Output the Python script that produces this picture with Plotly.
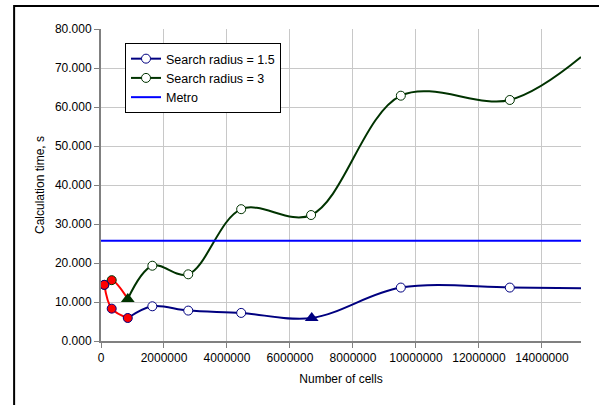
import plotly.graph_objects as go

# Search radius = 1.5
r15_x = [105000, 340000, 850000, 1630000, 2770000, 4450000, 6690000, 9520000, 12980000, 15240000]
r15_y = [14.4, 8.3, 5.9, 8.9, 7.8, 7.2, 5.9, 13.7, 13.7, 13.5]
# Search radius = 3
r3_x = [105000, 340000, 850000, 1630000, 2770000, 4450000, 6670000, 9520000, 12980000, 15240000]
r3_y = [14.4, 15.6, 10.8, 19.3, 17.1, 33.8, 32.3, 62.9, 61.8, 72.8]
# Metro constant
metro_x = [0, 15240000]
metro_y = [25.7, 25.7]

x_ticks = [0, 2000000, 4000000, 6000000, 8000000, 10000000, 12000000, 14000000]
y_ticks = [0, 10, 20, 30, 40, 50, 60, 70, 80]

NAVY = "#000080"
GREEN = "#003300"
BLUE = "#0000FF"
RED = "#FF0000"

fig = go.Figure()

fig.add_trace(go.Scatter(
    x=r15_x[2:], y=r15_y[2:], mode="lines", line=dict(color=NAVY, width=2, shape="spline", smoothing=1),
    showlegend=False, hoverinfo="skip"))
fig.add_trace(go.Scatter(
    x=r3_x[2:], y=r3_y[2:], mode="lines", line=dict(color=GREEN, width=2, shape="spline", smoothing=1),
    showlegend=False, hoverinfo="skip"))
fig.add_trace(go.Scatter(
    x=metro_x, y=metro_y, mode="lines", line=dict(color=BLUE, width=2),
    showlegend=False, hoverinfo="skip"))

circ15 = [3, 4, 5, 7, 8]
circ3 = [3, 4, 5, 6, 7, 8]
fig.add_trace(go.Scatter(
    x=[r15_x[i] for i in circ15], y=[r15_y[i] for i in circ15], mode="markers",
    marker=dict(symbol="circle", size=9, color="white", line=dict(color=NAVY, width=1)),
    showlegend=False))
fig.add_trace(go.Scatter(
    x=[r3_x[i] for i in circ3], y=[r3_y[i] for i in circ3], mode="markers",
    marker=dict(symbol="circle", size=9, color="white", line=dict(color=GREEN, width=1)),
    showlegend=False))

fig.add_trace(go.Scatter(
    x=r3_x[:3], y=r3_y[:3], mode="lines", line=dict(color=RED, width=2, shape="spline", smoothing=1),
    showlegend=False))
fig.add_trace(go.Scatter(
    x=r15_x[:3], y=r15_y[:3], mode="lines", line=dict(color=RED, width=2, shape="spline", smoothing=1),
    showlegend=False))
fig.add_trace(go.Scatter(
    x=r3_x[:2], y=r3_y[:2], mode="markers",
    marker=dict(symbol="circle", size=9, color=RED, line=dict(color=GREEN, width=1)),
    showlegend=False))
fig.add_trace(go.Scatter(
    x=r15_x[:3], y=r15_y[:3], mode="markers",
    marker=dict(symbol="circle", size=9, color=RED, line=dict(color=NAVY, width=1)),
    showlegend=False))

fig.add_trace(go.Scatter(
    x=[r3_x[2]], y=[r3_y[2]], mode="markers",
    marker=dict(symbol="triangle-up", size=12, color=GREEN), showlegend=False))
fig.add_trace(go.Scatter(
    x=[r15_x[6]], y=[r15_y[6]], mode="markers",
    marker=dict(symbol="triangle-up", size=12, color=NAVY), showlegend=False))

fig.add_trace(go.Scatter(
    x=[None], y=[None], mode="lines+markers", name="Search radius = 1.5",
    line=dict(color=NAVY, width=2),
    marker=dict(symbol="circle", size=9, color="white", line=dict(color=NAVY, width=1))))
fig.add_trace(go.Scatter(
    x=[None], y=[None], mode="lines+markers", name="Search radius = 3",
    line=dict(color=GREEN, width=2),
    marker=dict(symbol="circle", size=9, color="white", line=dict(color=GREEN, width=1))))
fig.add_trace(go.Scatter(
    x=[None], y=[None], mode="lines", name="Metro",
    line=dict(color=BLUE, width=2)))

fig.update_layout(
    width=599, height=405,
    margin=dict(l=101, r=18, t=29, b=64, autoexpand=False),
    paper_bgcolor="white", plot_bgcolor="white",
    font=dict(family="Liberation Sans, Arial, sans-serif", size=12, color="black"),
    legend=dict(x=0.05, y=0.955, xanchor="left", yanchor="top",
                bordercolor="black", borderwidth=1, bgcolor="white",
                font=dict(size=12.5), tracegroupgap=0),
    shapes=[dict(type="rect", xref="paper", yref="paper",
                 x0=-0.181, y0=-0.3, x1=1.1, y1=1.074,
                 line=dict(color="black", width=2), fillcolor="rgba(0,0,0,0)", layer="below")],
)
fig.update_xaxes(
    range=[0, 15240000], tickvals=x_ticks, ticktext=[str(v) for v in x_ticks],
    showgrid=True, gridcolor="#c8c8c8", gridwidth=1,
    showline=True, linecolor="#808080", linewidth=2,
    ticks="outside", ticklen=5, tickcolor="#808080", tickwidth=1,
    zeroline=False, automargin=False,
    title=dict(text="Number of cells", standoff=10, font=dict(size=12)),
)
fig.update_yaxes(
    range=[0, 80], tickvals=y_ticks, tickformat=".3f",
    showgrid=True, gridcolor="#c8c8c8", gridwidth=1,
    showline=True, linecolor="#808080", linewidth=2,
    ticks="outside", ticklen=5, tickcolor="#808080", tickwidth=1,
    zeroline=False, automargin=False,
    title=dict(text="Calculation time, s", standoff=8, font=dict(size=12)),
)

fig.write_html("out.html", config={"displayModeBar": False},
               post_script="document.body.style.margin='0';")
